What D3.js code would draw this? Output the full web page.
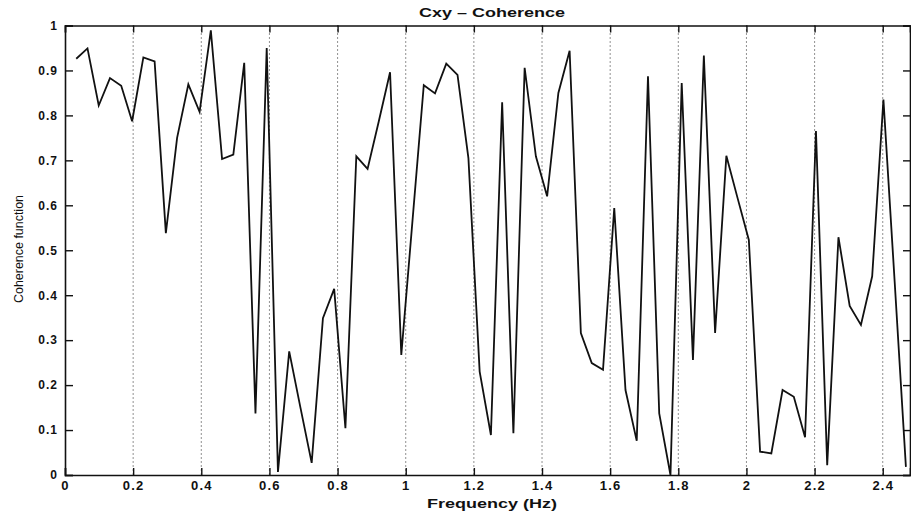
<!DOCTYPE html>
<html>
<head>
<meta charset="utf-8">
<script src="https://cdn.jsdelivr.net/npm/d3@7"></script>
<style>
  body { margin: 0; background: #fff; }
  text { font-family: 'Liberation Sans', Arial, sans-serif; fill: #111; }
</style>
</head>
<body>
<div id="viz-container"></div>
<script>
let width = 911;
let height = 513;

// frequency bins (Hz)
let freq = [0.033,0.066,0.099,0.132,0.165,0.197,0.230,0.263,0.296,0.329,
  0.362,0.395,0.428,0.461,0.494,0.526,0.559,0.592,0.625,0.658,
  0.691,0.724,0.757,0.790,0.823,0.855,0.888,0.921,0.954,0.987,
  1.020,1.053,1.086,1.119,1.152,1.184,1.217,1.250,1.283,1.316,
  1.349,1.382,1.415,1.448,1.481,1.514,1.546,1.579,1.612,1.645,
  1.678,1.711,1.744,1.777,1.810,1.843,1.875,1.908,1.941,1.974,
  2.007,2.040,2.073,2.106,2.139,2.172,2.204,2.237,2.270,2.303,
  2.336,2.369,2.402,2.435,2.468];

// coherence values
let coherence = [0.926,0.949,0.822,0.883,0.866,0.787,0.929,0.920,0.538,0.750,
  0.869,0.808,0.989,0.703,0.713,0.917,0.137,0.950,0.007,0.275,
  0.150,0.027,0.349,0.414,0.104,0.709,0.681,0.787,0.896,0.267,
  0.567,0.867,0.849,0.915,0.890,0.705,0.230,0.089,0.829,0.093,
  0.906,0.709,0.620,0.850,0.944,0.316,0.249,0.234,0.594,0.189,
  0.076,0.887,0.137,0.000,0.872,0.256,0.933,0.316,0.710,0.616,
  0.523,0.052,0.048,0.189,0.174,0.084,0.765,0.022,0.529,0.376,
  0.334,0.442,0.835,0.430,0.018];

let xTicks = [0,0.2,0.4,0.6,0.8,1,1.2,1.4,1.6,1.8,2,2.2,2.4];
let yTicks = [0,0.1,0.2,0.3,0.4,0.5,0.6,0.7,0.8,0.9,1];
let titleText = 'Cxy \u2013 Coherence';
let xLabel = 'Frequency (Hz)';
let yLabel = 'Coherence function';

let plotLeft = 65, plotRight = 910, plotTop = 25.5, plotBottom = 475;

let viz = d3.select('#viz-container')
  .append('svg')
  .attr('width', width)
  .attr('height', height);

let x = d3.scaleLinear().domain([0, 2.48]).range([plotLeft, plotRight]);
let y = d3.scaleLinear().domain([0, 1]).range([plotBottom, plotTop]);

// dotted vertical grid
viz.selectAll('.grid').data(xTicks.filter(d => d > 0)).enter()
  .append('line')
  .attr('class','grid')
  .attr('x1', d => x(d)).attr('x2', d => x(d))
  .attr('y1', plotTop).attr('y2', plotBottom)
  .attr('stroke','#222')
  .attr('stroke-width',1)
  .attr('stroke-dasharray','1,3');

// axes, ticks pointing inward
let xAxis = viz.append('g')
  .attr('transform','translate(0,' + plotBottom + ')')
  .call(d3.axisBottom(x).tickValues(xTicks).tickSize(-7).tickPadding(6).tickFormat(d3.format('')));
let topAxis = viz.append('g')
  .attr('transform','translate(0,' + plotTop + ')')
  .call(d3.axisTop(x).tickValues(xTicks).tickSize(-7).tickFormat(''));
let yAxis = viz.append('g')
  .attr('transform','translate(' + plotLeft + ',0)')
  .call(d3.axisLeft(y).tickValues(yTicks).tickSize(-8).tickPadding(7).tickFormat(d3.format('')));
let rightAxis = viz.append('g')
  .attr('transform','translate(' + plotRight + ',0)')
  .call(d3.axisRight(y).tickValues(yTicks).tickSize(-7).tickFormat(''));

[xAxis, topAxis, yAxis, rightAxis].forEach(function(g){
  g.select('.domain').attr('stroke','#111').attr('stroke-width',1.6);
  g.selectAll('.tick line').attr('stroke','#111').attr('stroke-width',1.4);
});
xAxis.selectAll('.tick text')
  .attr('font-size',13).attr('font-weight','bold').attr('fill','#111')
  .attr('letter-spacing','1.2px');
yAxis.selectAll('.tick text')
  .attr('font-size',12).attr('font-weight','bold').attr('fill','#111')
  .attr('letter-spacing','1px');

// the coherence curve
let line = d3.line()
  .x((d, i) => x(freq[i]))
  .y(d => y(d));

viz.append('path')
  .datum(coherence)
  .attr('d', line)
  .attr('fill','none')
  .attr('stroke','#111')
  .attr('stroke-width',1.8)
  .attr('stroke-linejoin','miter');

// title and labels
viz.append('text')
  .text(titleText)
  .attr('x', 492).attr('y', 17)
  .attr('text-anchor','middle')
  .attr('font-size',12).attr('font-weight','bold')
  .attr('textLength',146).attr('lengthAdjust','spacingAndGlyphs');

viz.append('text')
  .text(xLabel)
  .attr('x', 492).attr('y', 508)
  .attr('text-anchor','middle')
  .attr('font-size',13).attr('font-weight','bold')
  .attr('textLength',130).attr('lengthAdjust','spacingAndGlyphs');

viz.append('text')
  .text(yLabel)
  .attr('transform','translate(23,249) rotate(-90)')
  .attr('text-anchor','middle')
  .attr('font-size',13)
  .attr('textLength',108).attr('lengthAdjust','spacingAndGlyphs');
</script>
</body>
</html>
